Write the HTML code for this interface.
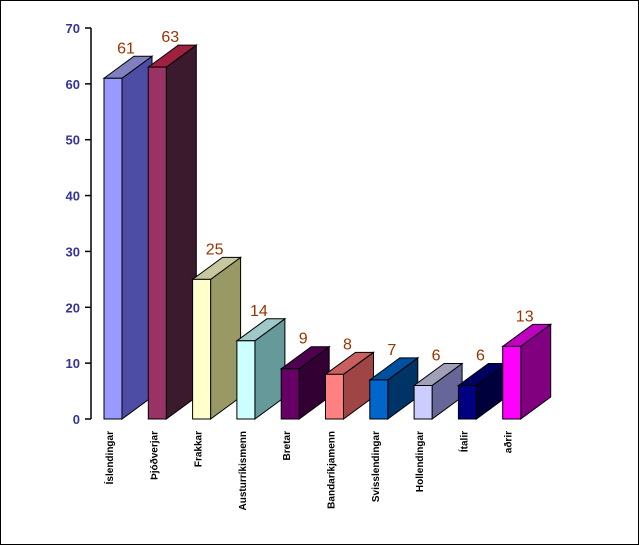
<!DOCTYPE html>
<html><head><meta charset="utf-8"><style>
html,body{margin:0;padding:0;background:#fff}
svg{display:block}
</style></head><body>
<svg id="chart" width="639" height="545" viewBox="0 0 639 545" xmlns="http://www.w3.org/2000/svg">
<rect x="0.5" y="0.5" width="638" height="544" fill="#fff" stroke="#000"/>
<g id="plot"></g>
</svg>
<script>
const categories=["Íslendingar","Þjóðverjar","Frakkar","Austurríkismenn","Bretar","Bandaríkjamenn","Svisslendingar","Hollendingar","Ítalir","aðrir"];
const values=[61,63,25,14,9,8,7,6,6,13];
const yTicks=[0,10,20,30,40,50,60,70];
const fronts=["#9999ff","#993366","#ffffcc","#ccffff","#660066","#ff8080","#0066cc","#ccccff","#000080","#ff00ff"];
const sides=["#4d4da6","#3a1a2c","#999966","#669999","#330033","#a04545","#003366","#666699","#00003d","#800080"];
const tops=["#8080c0","#a02040","#c8c8a0","#a0c8c8","#4d004d","#c86060","#0050a0","#a0a0b8","#000060","#c000c0"];
const NS="http://www.w3.org/2000/svg";
const g=document.getElementById('plot');
const y0=419,yTop=28,yMax=70,xAxis=91;
function yScale(v){return y0-(v/yMax)*(y0-yTop);}
function xScale(i){return 104+i*44.3;}
const bw=18,dx=30,dy=22;
function mk(t,a){const e=document.createElementNS(NS,t);for(const k in a)e.setAttribute(k,a[k]);g.appendChild(e);return e;}
const ax=mk('line',{x1:xAxis,y1:yTop,x2:xAxis,y2:y0,stroke:'#000','stroke-width':1.5});


yTicks.forEach(t=>{
 const y=yScale(t);
 const l=mk('line',{x1:85,y1:y,x2:xAxis,y2:y,stroke:'#000','stroke-width':1.5});
 
 
 const tx=mk('text',{x:80,y:y+5,'text-anchor':'end','font-family':'Liberation Sans, sans-serif','font-size':13,'font-weight':'bold',fill:'#333399'});
 tx.textContent=t;
 
 
});
values.forEach((v,i)=>{
 const x=xScale(i),y=yScale(v);
 const side=mk('polygon',{points:`${x+bw},${y} ${x+bw+dx},${y-dy} ${x+bw+dx},${y0-dy} ${x+bw},${y0}`,fill:sides[i],stroke:'#000','stroke-width':1});
 
 
 const top=mk('polygon',{points:`${x},${y} ${x+dx},${y-dy} ${x+bw+dx},${y-dy} ${x+bw},${y}`,fill:tops[i],stroke:'#000','stroke-width':1});
 
 
 const fr=mk('rect',{x:x,y:y,width:bw,height:y0-y,fill:fronts[i],stroke:'#000','stroke-width':1});
 
 
 const lb=mk('text',{x:x+22,y:y-25,'text-anchor':'middle','font-family':'Liberation Sans, sans-serif','font-size':16,fill:'#993300'});
 lb.textContent=v;
 
 
 const cx=x+9,cy=431;
 const cl=mk('text',{x:cx,y:cy,transform:`rotate(-90 ${cx} ${cy})`,'text-anchor':'end','font-family':'Liberation Sans, sans-serif','font-size':10,'font-weight':'bold',fill:'#000'});
 cl.textContent=categories[i];
 
 
});
</script>
</body></html>
